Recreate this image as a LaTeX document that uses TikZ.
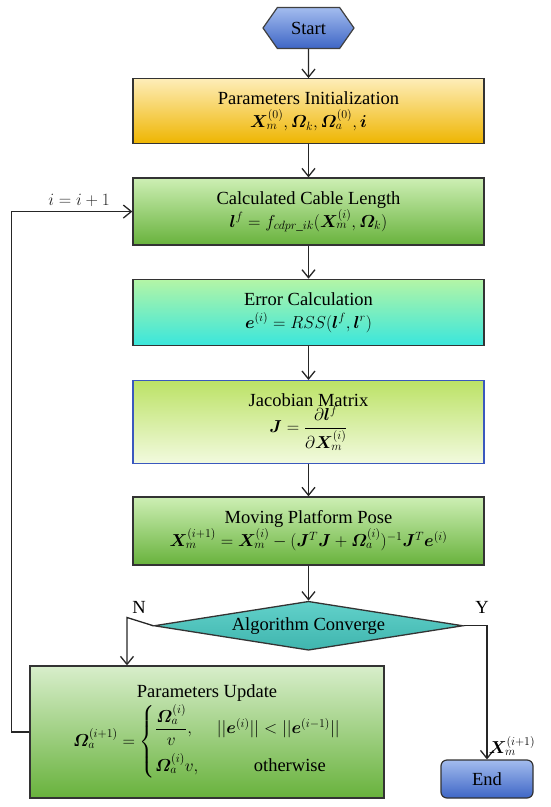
\documentclass[tikz,border=0pt]{standalone}
\usepackage{amsmath}
\usepackage{bm}
\usepackage{fontspec}
\setmainfont{Liberation Serif}
\usetikzlibrary{
  arrows.meta,
  positioning,
  shapes.geometric,
  shapes.symbols
}

\definecolor{startTop}{HTML}{A3BCEE}
\definecolor{startBot}{HTML}{3E66C6}
\definecolor{initTop}{HTML}{FEEDB8}
\definecolor{initBot}{HTML}{EEB500}
\definecolor{greenTop}{HTML}{CDEFB4}
\definecolor{greenBot}{HTML}{68B23C}
\definecolor{errTop}{HTML}{B4F5A6}
\definecolor{errBot}{HTML}{3AE6DC}
\definecolor{jacTop}{HTML}{BCE266}
\definecolor{jacBot}{HTML}{F2FADF}
\definecolor{jacLine}{HTML}{3A58BE}
\definecolor{convFill}{HTML}{46C9C1}
\definecolor{updTop}{HTML}{D8EECB}

\begin{document}
\begin{tikzpicture}[
    x=1pt, y=1pt,
    >={Straight Barb[length=8pt,width=13pt]},
    node distance=33pt,
    every node/.style={font=\fontsize{18.5}{23}\selectfont},
    etapa/.style={
        draw=black!80,
        line width=1.3pt,
        minimum width=351pt,
        align=center,
        inner sep=2pt
    },
    seta/.style={
        ->,
        line width=1.3pt,
        black!85
    }
]

\useasboundingbox (0,0) rectangle (550,-807);

% ============================================================
% ETAPAS
% ============================================================

\node[signal, signal to=east and west, signal pointer angle=110,
      draw=black!75, line width=1.2pt, top color=startTop, bottom color=startBot,
      minimum width=91pt, minimum height=41pt, inner sep=1pt]
      (start) at (308.5,-28) {Start};

\node[etapa, top color=initTop, bottom color=initBot, minimum height=65pt,
      below=29pt of start] (init) {
    Parameters Initialization\\
    $\bm{X}_m^{(0)}, \bm{\varOmega}_k, \bm{\varOmega}_a^{(0)}, \bm{i}$
};

\node[etapa, top color=greenTop, bottom color=greenBot, minimum height=67pt,
      below=of init] (cable) {
    Calculated Cable Length\\
    $\bm{l}^f = f_{cdpr\_ik}(\bm{X}_m^{(i)}, \bm{\varOmega}_k)$
};

\node[etapa, top color=errTop, bottom color=errBot, minimum height=66pt,
      below=of cable] (error) {
    Error Calculation\\
    $\bm{e}^{(i)} = RSS(\bm{l}^f, \bm{l}^r)$
};

\node[etapa, draw=jacLine, shading angle=210, top color=jacTop, bottom color=jacBot,
      minimum height=83pt, below=34pt of error] (jacob) {
    Jacobian Matrix\\[-2pt]
    $\displaystyle \bm{J} = \frac{\partial \bm{l}^f}{\partial \bm{X}_m^{(i)}}$
};

\node[etapa, top color=greenTop, bottom color=greenBot, minimum height=68pt,
      below=32pt of jacob] (pose) {
    Moving Platform Pose\\
    $\bm{X}_m^{(i+1)} = \bm{X}_m^{(i)} - (\bm{J}^T\bm{J} + \bm{\varOmega}_a^{(i)})^{-1}\bm{J}^T\bm{e}^{(i)}$
};

\node[diamond, aspect=6.3, draw=black!80, line width=1.3pt,
      top color=convFill!85!white, bottom color=convFill!90!black,
      minimum width=309pt, minimum height=49pt, inner sep=0pt,
      below=35pt of pose] (conv) {Algorithm Converge};

\node[etapa, top color=updTop, bottom color=greenBot, minimum width=354pt, minimum height=132pt]
      (update) at (207,-732) {
    Parameters Update\\[2pt]
    $\bm{\varOmega}_a^{(i+1)} = \begin{cases}
        \dfrac{\bm{\varOmega}_a^{(i)}}{v}, & ||\bm{e}^{(i)}|| < ||\bm{e}^{(i-1)}||\\[10pt]
        \bm{\varOmega}_a^{(i)} v, & \qquad\text{otherwise}
    \end{cases}$
};

\node[draw=black!80, line width=1.2pt, rounded corners=6pt, top color=startTop, bottom color=startBot,
      minimum width=92pt, minimum height=38pt] (end) at (487,-779) {End};

% ============================================================
% SETAS
% ============================================================

\draw[seta] (start) -- (init);
\draw[seta] (init) -- (cable);
\draw[seta] (cable) -- (error);
\draw[seta] (error) -- (jacob);
\draw[seta] (jacob) -- (pose);
\draw[seta] (pose) -- (conv);

% ============================================================
% DECISAO E RETORNO
% ============================================================

\coordinate (nturn) at (127,-617.5);
\draw[seta] (conv.west) -- (nturn) -- (nturn |- update.north);
\node (nlbl) at (139,-607) {N};

\draw[seta] (conv.east) -| (end.north);
\node (ylbl) at (482,-607) {Y};
\node (xlbl) at (512,-746) {$\bm{X}_m^{(i+1)}$};

\draw[seta] (update.west) -- ++(-18,0) |- (cable.west)
    node[pos=0.78, above=1pt] (inc) {$i = i + 1$};

\end{tikzpicture}
\end{document}
